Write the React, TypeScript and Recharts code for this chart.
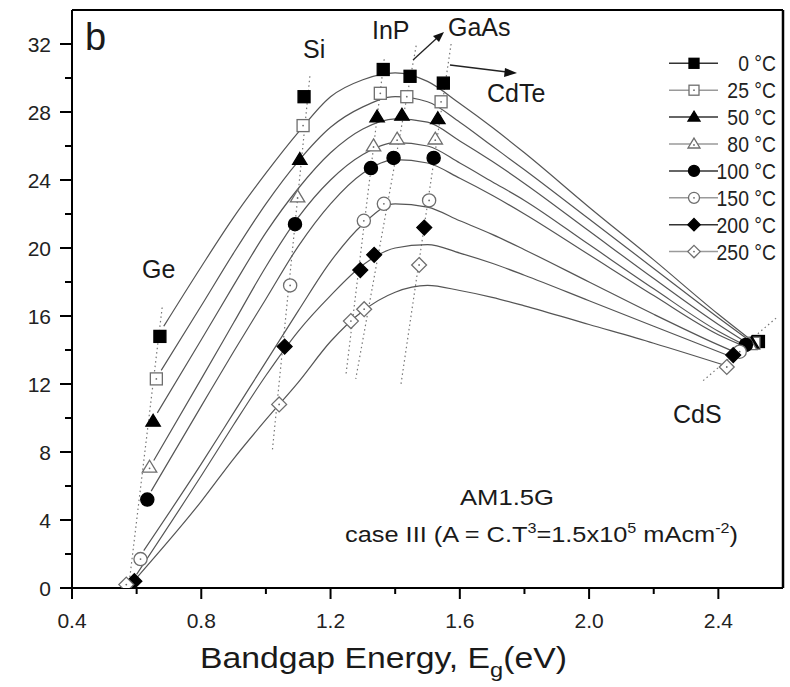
import React from 'react';
import { ComposedChart, Line, Scatter, XAxis, YAxis, ReferenceLine } from 'recharts';

type P = { x: number; y: number };
const toPts = (a: number[][]): P[] => a.map(([x, y]) => ({ x, y }));

// Legend labels
const seriesNames = ['0 °C', '25 °C', '50 °C', '80 °C', '100 °C', '150 °C', '200 °C', '250 °C'];

// Marker values (Ge, Si, InP, GaAs, CdTe, CdS) for each temperature
const m0 = [[0.672, 14.8], [1.118, 28.9], [1.363, 30.5], [1.446, 30.1], [1.549, 29.7], [2.524, 14.5]];
const m25 = [[0.661, 12.3], [1.115, 27.2], [1.354, 29.1], [1.436, 28.9], [1.542, 28.6], [2.51, 14.4]];
const m50 = [[0.651, 9.8], [1.105, 25.2], [1.344, 27.7], [1.421, 27.8], [1.532, 27.6], [2.503, 14.4]];
const m80 = [[0.64, 7.1], [1.098, 23.0], [1.333, 26.0], [1.406, 26.4], [1.524, 26.4], [2.497, 14.3]];
const m100 = [[0.633, 5.2], [1.09, 21.4], [1.325, 24.7], [1.395, 25.3], [1.519, 25.3], [2.485, 14.3]];
const m150 = [[0.612, 1.7], [1.075, 17.8], [1.303, 21.6], [1.365, 22.6], [1.505, 22.8], [2.466, 13.9]];
const m200 = [[0.593, 0.4], [1.058, 14.2], [1.292, 18.7], [1.335, 19.6], [1.49, 21.2], [2.446, 13.7]];
const m250 = [[0.568, 0.2], [1.041, 10.8], [1.263, 15.7], [1.304, 16.4], [1.474, 19.0], [2.426, 13.0]];

// Fitted curves
const c0 = [[0.684, 15.4], [0.8, 18.9], [0.9, 21.8], [1.0, 24.4], [1.1, 26.8], [1.2, 28.9], [1.3, 29.9], [1.4, 30.3], [1.5, 29.8], [1.6, 28.5], [1.7, 27.1], [1.8, 25.6], [2.0, 22.4], [2.2, 19.3], [2.4, 16.1], [2.5, 14.6]];
const c25 = [[0.676, 12.8], [0.8, 16.6], [0.9, 19.7], [1.0, 22.6], [1.1, 25.1], [1.2, 27.1], [1.3, 28.3], [1.4, 28.9], [1.5, 28.6], [1.6, 27.4], [1.7, 26.0], [1.8, 24.6], [2.0, 21.7], [2.2, 18.8], [2.4, 15.9], [2.5, 14.5]];
const c50 = [[0.664, 10.3], [0.8, 14.6], [0.9, 17.8], [1.0, 20.9], [1.1, 23.5], [1.2, 25.6], [1.3, 27.0], [1.4, 27.6], [1.5, 27.4], [1.6, 26.3], [1.7, 25.1], [1.8, 23.8], [2.0, 21.0], [2.2, 18.2], [2.4, 15.5], [2.49, 14.4]];
const c80 = [[0.653, 7.5], [0.8, 12.3], [0.9, 15.6], [1.0, 18.9], [1.1, 21.8], [1.2, 24.0], [1.3, 25.5], [1.4, 26.2], [1.5, 26.0], [1.6, 25.0], [1.7, 23.9], [1.8, 22.8], [2.0, 20.2], [2.2, 17.6], [2.4, 15.1], [2.48, 14.3]];
const c100 = [[0.645, 5.7], [0.8, 10.7], [0.9, 13.9], [1.0, 17.0], [1.1, 20.1], [1.2, 22.6], [1.3, 24.4], [1.4, 25.2], [1.5, 25.0], [1.6, 24.1], [1.7, 23.1], [1.8, 22.0], [2.0, 19.6], [2.2, 17.2], [2.4, 14.9], [2.47, 14.3]];
const c150 = [[0.622, 2.2], [0.8, 7.3], [0.9, 10.3], [1.0, 13.3], [1.1, 16.3], [1.2, 19.2], [1.3, 21.4], [1.4, 22.6], [1.5, 22.4], [1.6, 21.6], [1.7, 20.8], [1.8, 19.9], [2.0, 18.0], [2.2, 16.1], [2.4, 14.3], [2.46, 13.8]];
const c200 = [[0.6, 0.8], [0.8, 6.6], [0.9, 9.6], [1.0, 12.5], [1.1, 15.1], [1.2, 17.2], [1.3, 19.0], [1.4, 20.0], [1.5, 20.2], [1.6, 19.7], [1.7, 19.1], [1.8, 18.4], [2.0, 16.9], [2.2, 15.4], [2.44, 13.6]];
const c250 = [[0.6, 0.6], [0.8, 5.1], [0.9, 7.6], [1.0, 9.9], [1.1, 12.1], [1.2, 14.5], [1.3, 16.3], [1.4, 17.4], [1.5, 17.8], [1.6, 17.5], [1.7, 17.1], [1.8, 16.6], [2.0, 15.5], [2.2, 14.4], [2.42, 13.1]];

// Dotted guide lines through each material
const dGe = [[0.679, 16.5], [0.575, 0.0]];
const dSi = [[1.136, 30.1], [1.02, 8.1]];
const dInP = [[1.366, 31.1], [1.248, 12.6]];
const dGaAs = [[1.465, 31.9], [1.278, 12.3]];
const dCdTe = [[1.573, 32.0], [1.418, 12.0]];
const dCdS = [[2.353, 12.2], [2.58, 15.9]];

const yTicks = [0, 2, 4, 6, 8, 10, 12, 14, 16, 18, 20, 22, 24, 26, 28, 30, 32];
const xTicks = [0.4, 0.6, 0.8, 1.0, 1.2, 1.4, 1.6, 1.8, 2.0, 2.2, 2.4];

const markerData = [m0, m25, m50, m80, m100, m150, m200, m250];
const curveData = [c0, c25, c50, c80, c100, c150, c200, c250];
const dottedData = [dGe, dSi, dInP, dGaAs, dCdTe, dCdS];

type Kind = 'square' | 'triangle' | 'circle' | 'diamond';
const kinds: Kind[] = ['square', 'square', 'triangle', 'triangle', 'circle', 'circle', 'diamond', 'diamond'];
const filled = [true, false, true, false, true, false, true, false];

const FONT = '"Liberation Sans", Arial, sans-serif';

function MarkerGlyph({ cx, cy, kind, isFilled, s }: { cx: number; cy: number; kind: Kind; isFilled: boolean; s: number }) {
  const fill = isFilled ? '#000' : '#fff';
  const stroke = isFilled ? '#000' : '#6e6e6e';
  const sw = 1.3;
  let shape: React.ReactNode = null;
  if (kind === 'square') {
    shape = <rect x={cx - s / 2} y={cy - s / 2} width={s} height={s} fill={fill} stroke={stroke} strokeWidth={sw} />;
  } else if (kind === 'triangle') {
    const h = s * 0.95;
    shape = (
      <polygon
        points={`${cx},${cy - h * 0.62} ${cx + s * 0.6},${cy + h * 0.42} ${cx - s * 0.6},${cy + h * 0.42}`}
        fill={fill}
        stroke={stroke}
        strokeWidth={sw}
      />
    );
  } else if (kind === 'circle') {
    shape = <circle cx={cx} cy={cy} r={s * 0.55} fill={fill} stroke={stroke} strokeWidth={sw} />;
  } else {
    const r = s * 0.62;
    shape = (
      <polygon
        points={`${cx},${cy - r} ${cx + r},${cy} ${cx},${cy + r} ${cx - r},${cy}`}
        fill={fill}
        stroke={stroke}
        strokeWidth={sw}
      />
    );
  }
  return (
    <g>
      {shape}
      {!isFilled && <circle cx={cx} cy={kind === 'triangle' ? cy + 1 : cy} r={0.9} fill="#6e6e6e" />}
    </g>
  );
}

const YTick = (props: any) => {
  const { x, y, payload } = props;
  const v = payload.value as number;
  const major = v % 4 === 0;
  return (
    <g>
      <line x1={x - (major ? 12 : 7)} x2={x} y1={y} y2={y} stroke="#000" strokeWidth={2} />
      {major && (
        <text x={x - 21} y={y + 7.5} textAnchor="end" fontSize={21} fontFamily={FONT} fill="#222">
          {v}
        </text>
      )}
    </g>
  );
};

const XTick = (props: any) => {
  const { x, y, payload } = props;
  const v = payload.value as number;
  const major = Math.round(v * 10) % 4 === 0;
  return (
    <g>
      <line x1={x} x2={x} y1={y} y2={y + (major ? 11 : 6)} stroke="#000" strokeWidth={2} />
      {major && (
        <text x={x} y={y + 40} textAnchor="middle" fontSize={21} fontFamily={FONT} fill="#222">
          {v.toFixed(1)}
        </text>
      )}
    </g>
  );
};

function Overlay() {
  const legendTop = 63.3;
  const legendStep = 26.9;
  return (
    <svg
      width={790}
      height={687}
      style={{ position: 'absolute', left: 0, top: 0, pointerEvents: 'none' }}
    >
      {/* legend */}
      {seriesNames.map((name, i) => {
        const y = legendTop + legendStep * i;
        const lc = filled[i] ? '#333' : '#9a9a9a';
        return (
          <g key={name}>
            <line x1={669} x2={718} y1={y} y2={y} stroke={lc} strokeWidth={1.5} />
            <MarkerGlyph cx={694} cy={y} kind={kinds[i]} isFilled={filled[i]} s={10} />
            <text
              transform={`translate(776, ${y + 8}) scale(0.88, 1)`}
              x={0}
              y={0}
              textAnchor="end"
              fontSize={22}
              fontFamily={FONT}
              fill="#222"
            >
              {name}
            </text>
          </g>
        );
      })}
      {/* annotations */}
      <g fontFamily={FONT} fill="#1a1a1a">
        <text x={85} y={50} fontSize={38}>b</text>
        <text x={303} y={58} fontSize={25}>Si</text>
        <text x={372} y={39} fontSize={25}>InP</text>
        <text x={448} y={36} fontSize={25}>GaAs</text>
        <text x={487} y={102} fontSize={25}>CdTe</text>
        <text x={142} y={278} fontSize={25}>Ge</text>
        <text x={673} y={423} fontSize={25}>CdS</text>
        <text x={460} y={505} fontSize={22} textLength={94} lengthAdjust="spacingAndGlyphs">AM1.5G</text>
        <text x={345} y={542} fontSize={22} textLength={393} lengthAdjust="spacingAndGlyphs">
          case III (A = C.T
          <tspan dy={-9} fontSize={14}>3</tspan>
          <tspan dy={9}>=1.5x10</tspan>
          <tspan dy={-9} fontSize={14}>5</tspan>
          <tspan dy={9}> mAcm</tspan>
          <tspan dy={-9} fontSize={14}>-2</tspan>
          <tspan dy={9}>)</tspan>
        </text>
        <text x={200} y={668} fontSize={30} textLength={367} lengthAdjust="spacingAndGlyphs">
          Bandgap Energy, E
          <tspan dy={9} fontSize={21}>g</tspan>
          <tspan dy={-9}>(eV)</tspan>
        </text>
      </g>
      {/* arrows */}
      <line x1={413} y1={60} x2={437} y2={38} stroke="#222" strokeWidth={1.3} />
      <polygon points="444,32 433,36 439,42" fill="#111" />
      <line x1={450} y1={65} x2={507} y2={72} stroke="#222" strokeWidth={1.3} />
      <polygon points="517,73 505,68 504,77" fill="#111" />
    </svg>
  );
}

export default function App() {
  return (
    <div style={{ position: 'absolute', left: 0, top: 0, width: 790, height: 687, background: '#fff' }}>
      <ComposedChart width={790} height={687} margin={{ top: 10, right: 7, bottom: 0, left: 0 }}>
        <XAxis
          type="number"
          dataKey="x"
          domain={[0.4, 2.6]}
          ticks={xTicks}
          tick={<XTick />}
          tickLine={false}
          tickSize={0}
          tickMargin={0}
          height={99}
          axisLine={{ stroke: '#000', strokeWidth: 2 }}
          allowDataOverflow
        />
        <YAxis
          type="number"
          dataKey="y"
          domain={[0, 34]}
          ticks={yTicks}
          tick={<YTick />}
          tickLine={false}
          tickSize={0}
          tickMargin={0}
          width={72}
          axisLine={{ stroke: '#000', strokeWidth: 2 }}
          allowDataOverflow
        />
        <ReferenceLine y={34} stroke="#000" strokeWidth={2} />
        <ReferenceLine x={2.6} stroke="#000" strokeWidth={2.5} />
        {dottedData.map((d, i) => (
          <Line
            key={`d${i}`}
            data={toPts(d)}
            dataKey="y"
            type="linear"
            stroke="#777"
            strokeWidth={1.2}
            strokeDasharray="1.5 3"
            dot={false}
            activeDot={false}
            isAnimationActive={false}
          />
        ))}
        {curveData.map((c, i) => (
          <Line
            key={`c${i}`}
            data={toPts(c)}
            dataKey="y"
            type="monotone"
            stroke="#555"
            strokeWidth={1.2}
            dot={false}
            activeDot={false}
            isAnimationActive={false}
          />
        ))}
        {markerData.map((m, i) => (
          <Scatter
            key={`m${i}`}
            name={seriesNames[i]}
            data={toPts(m)}
            dataKey="y"
            isAnimationActive={false}
            shape={(p: any) => <MarkerGlyph cx={p.cx} cy={p.cy} kind={kinds[i]} isFilled={filled[i]} s={12} />}
          />
        ))}
      </ComposedChart>
      <Overlay />
    </div>
  );
}
